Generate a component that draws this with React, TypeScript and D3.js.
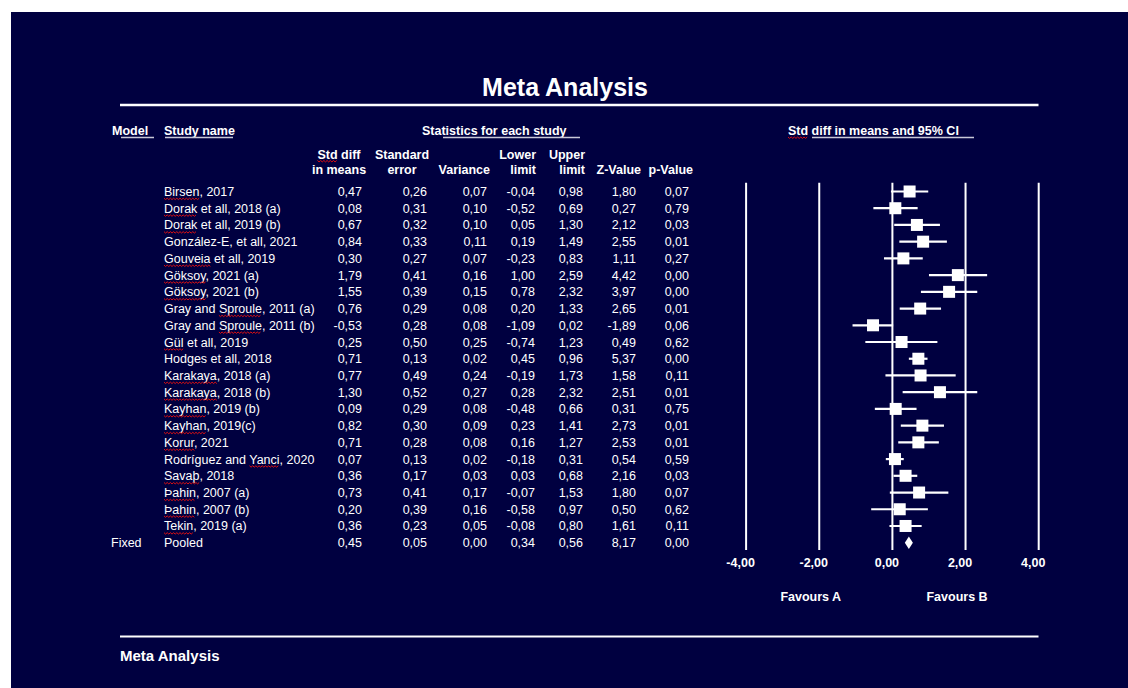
import React from "react";
import * as d3 from "d3";

// ---------- data ----------
const studyNames = [
  "Birsen, 2017",
  "Dorak et all, 2018 (a)",
  "Dorak et all, 2019 (b)",
  "González-E, et all, 2021",
  "Gouveia et all, 2019",
  "Göksoy, 2021 (a)",
  "Göksoy, 2021 (b)",
  "Gray and Sproule, 2011 (a)",
  "Gray and Sproule, 2011 (b)",
  "Gül et all, 2019",
  "Hodges et all, 2018",
  "Karakaya, 2018 (a)",
  "Karakaya, 2018 (b)",
  "Kayhan, 2019 (b)",
  "Kayhan, 2019(c)",
  "Korur, 2021",
  "Rodríguez and Yanci, 2020",
  "Savaþ, 2018",
  "Þahin, 2007 (a)",
  "Þahin, 2007 (b)",
  "Tekin, 2019 (a)",
];
// words flagged by the spell checker in the original screenshot
const flaggedWords = [
  "Birsen", "Dorak", "Dorak", "", "Gouveia", "Göksoy", "Göksoy", "Sproule", "Sproule",
  "Gül", "", "Karakaya", "Karakaya", "Kayhan", "Kayhan", "Korur", "Yanci", "Savaþ",
  "Þahin", "Þahin", "Tekin",
];
const stdDiff = [0.47, 0.08, 0.67, 0.84, 0.30, 1.79, 1.55, 0.76, -0.53, 0.25, 0.71, 0.77, 1.30, 0.09, 0.82, 0.71, 0.07, 0.36, 0.73, 0.20, 0.36];
const stdErr = [0.26, 0.31, 0.32, 0.33, 0.27, 0.41, 0.39, 0.29, 0.28, 0.50, 0.13, 0.49, 0.52, 0.29, 0.30, 0.28, 0.13, 0.17, 0.41, 0.39, 0.23];
const variance = [0.07, 0.10, 0.10, 0.11, 0.07, 0.16, 0.15, 0.08, 0.08, 0.25, 0.02, 0.24, 0.27, 0.08, 0.09, 0.08, 0.02, 0.03, 0.17, 0.16, 0.05];
const lowerLimit = [-0.04, -0.52, 0.05, 0.19, -0.23, 1.00, 0.78, 0.20, -1.09, -0.74, 0.45, -0.19, 0.28, -0.48, 0.23, 0.16, -0.18, 0.03, -0.07, -0.58, -0.08];
const upperLimit = [0.98, 0.69, 1.30, 1.49, 0.83, 2.59, 2.32, 1.33, 0.02, 1.23, 0.96, 1.73, 2.32, 0.66, 1.41, 1.27, 0.31, 0.68, 1.53, 0.97, 0.80];
const zValue = [1.80, 0.27, 2.12, 2.55, 1.11, 4.42, 3.97, 2.65, -1.89, 0.49, 5.37, 1.58, 2.51, 0.31, 2.73, 2.53, 0.54, 2.16, 1.80, 0.50, 1.61];
const pValue = [0.07, 0.79, 0.03, 0.01, 0.27, 0.00, 0.00, 0.01, 0.06, 0.62, 0.00, 0.11, 0.01, 0.75, 0.01, 0.01, 0.59, 0.03, 0.07, 0.62, 0.11];

const pooledModel = "Fixed";
const pooledName = "Pooled";
const pooledStats = [0.45, 0.05, 0.00, 0.34, 0.56, 8.17, 0.00]; // std, se, var, lower, upper, z, p

const axisTicks = [-4, -2, 0, 2, 4];
const favourLabels = ["Favours A", "Favours B"];
const favourAt = [-2, 2];

const titleText = "Meta Analysis";
const footerText = "Meta Analysis";
const headerModel = "Model";
const headerStudy = "Study name";
const headerStats = "Statistics for each study";
const headerForest = "Std diff in means and 95% CI";
const columnHeads = [
  ["Std diff", "in means"],
  ["Standard", "error"],
  ["", "Variance"],
  ["Lower", "limit"],
  ["Upper", "limit"],
  ["", "Z-Value"],
  ["", "p-Value"],
];

// ---------- layout ----------
const W = 1128;
const H = 688;
const BG = "#000040";
const FONT = "'Liberation Sans', Arial, Helvetica, sans-serif";
const FS = 12.5;

const colValueRight = [362, 427, 487, 535, 583, 636, 689];
const colHeadX = [339, 402, 490, 536, 585, 641, 693];
const colHeadAnchor = ["middle", "middle", "end", "end", "end", "end", "end"];

const locale = d3.formatLocale({
  decimal: ",",
  thousands: ".",
  grouping: [3],
  currency: ["", ""],
  minus: "-",
});
const fmt = locale.format(".2f");

let _ctx: CanvasRenderingContext2D | null = null;
function textWidth(t: string, size: number, bold = false) {
  if (!_ctx) {
    const c = document.createElement("canvas");
    _ctx = c.getContext("2d");
  }
  if (!_ctx) return t.length * size * 0.5;
  _ctx.font = `${bold ? "bold " : ""}${size}px 'Liberation Sans', Arial, sans-serif`;
  return _ctx.measureText(t).width;
}

function squigglePath(x0: number, x1: number, y: number) {
  const step = 1.6;
  let d = `M${x0},${y}`;
  let up = true;
  for (let x = x0 + step; x <= x1 + 0.01; x += step) {
    d += ` L${x.toFixed(2)},${(up ? y + 1.4 : y).toFixed(2)}`;
    up = !up;
  }
  return d;
}

export default function App() {
  const nRows = studyNames.length + 1;
  const y = d3.scalePoint<number>().domain(d3.range(nRows)).range([191.5, 542.7]);
  const x = d3.scaleLinear().domain([-4, 4]).range([746.1, 1038.7]);

  const studyX = 164;
  const modelX = 111;
  const textDy = 4.5;

  const statsCols = [stdDiff, stdErr, variance, lowerLimit, upperLimit, zValue, pValue];

  const squiggles: { x0: number; x1: number; y: number }[] = [];
  studyNames.forEach((name, i) => {
    const w = flaggedWords[i];
    if (!w) return;
    const idx = name.indexOf(w);
    if (idx < 0) return;
    const x0 = studyX + textWidth(name.slice(0, idx), FS);
    const x1 = x0 + textWidth(w, FS);
    squiggles.push({ x0, x1, y: (y(i) as number) + textDy + 2.2 });
  });
  // "Std" in the headers
  {
    const w1 = textWidth(columnHeads[0][0], FS, true);
    const x0 = colHeadX[0] - w1 / 2;
    squiggles.push({ x0, x1: x0 + textWidth("Std", FS, true), y: 160.5 });
    const x0b = 788;
    squiggles.push({ x0: x0b, x1: x0b + textWidth("Std", FS, true), y: 137 });
  }

  const boxSize = 12;
  const pooledY = y(nRows - 1) as number;
  const diamondH = 6.2;
  const diamond = d3.line<[number, number]>()([
    [x(pooledStats[3]), pooledY],
    [x(pooledStats[0]), pooledY - diamondH],
    [x(pooledStats[4]), pooledY],
    [x(pooledStats[0]), pooledY + diamondH],
    [x(pooledStats[3]), pooledY],
  ]);

  return (
    <svg
      width={W}
      height={H}
      style={{ position: "absolute", left: 0, top: 0, display: "block" }}
      fontFamily={FONT}
    >
      <rect x={0} y={0} width={W} height={H} fill="#ffffff" />
      <rect x={11} y={12} width={W - 11} height={H - 12} fill={BG} />

      {/* title */}
      <text x={565} y={96} textAnchor="middle" fill="#fff" fontWeight="bold" fontSize={25}>
        {titleText}
      </text>
      <line x1={120} x2={1038.5} y1={105} y2={105} stroke="#fff" strokeWidth={2.5} />

      {/* group headers */}
      <g fill="#fff" fontWeight="bold" fontSize={FS}>
        <text x={112} y={134.5}>{headerModel}</text>
        <text x={164} y={134.5}>{headerStudy}</text>
        <text x={422} y={134.5}>{headerStats}</text>
        <text x={788} y={134.5}>{headerForest}</text>
      </g>
      <g stroke="#c8c8d8" strokeWidth={1.3}>
        <line x1={121} x2={154} y1={137.5} y2={137.5} />
        <line x1={165} x2={233} y1={137.5} y2={137.5} />
        <line x1={443} x2={580} y1={137.5} y2={137.5} />
        <line x1={812} x2={974} y1={137.5} y2={137.5} />
      </g>

      {/* column heads */}
      <g fill="#fff" fontWeight="bold" fontSize={FS}>
        {columnHeads.map((h, i) => (
          <g key={i}>
            {h[0] && (
              <text x={colHeadX[i]} y={158.5} textAnchor={colHeadAnchor[i] as any}>
                {h[0]}
              </text>
            )}
            <text x={colHeadX[i]} y={173.5} textAnchor={colHeadAnchor[i] as any}>
              {h[1]}
            </text>
          </g>
        ))}
      </g>

      {/* study rows */}
      <g fill="#fff" fontSize={FS}>
        {studyNames.map((name, i) => {
          const yy = (y(i) as number) + textDy;
          return (
            <g key={name}>
              <text x={studyX} y={yy}>{name}</text>
              {statsCols.map((col, c) => (
                <text key={c} x={colValueRight[c]} y={yy} textAnchor="end">
                  {fmt(col[i])}
                </text>
              ))}
            </g>
          );
        })}
        <text x={modelX} y={pooledY + textDy}>{pooledModel}</text>
        <text x={studyX} y={pooledY + textDy}>{pooledName}</text>
        {pooledStats.map((v, c) => (
          <text key={c} x={colValueRight[c]} y={pooledY + textDy} textAnchor="end">
            {fmt(v)}
          </text>
        ))}
      </g>

      {/* spell-check squiggles */}
      <g fill="none" stroke="#e01010" strokeWidth={1}>
        {squiggles.map((s, i) => (
          <path key={i} d={squigglePath(s.x0, s.x1, s.y)} />
        ))}
      </g>

      {/* forest plot grid lines */}
      <g stroke="#fff" strokeWidth={2}>
        {axisTicks.map((t) => (
          <line key={t} x1={x(t)} x2={x(t)} y1={182.7} y2={550} />
        ))}
      </g>

      {/* CIs and boxes */}
      <g>
        {studyNames.map((name, i) => {
          const yy = y(i) as number;
          return (
            <g key={name}>
              <line x1={x(lowerLimit[i])} x2={x(upperLimit[i])} y1={yy} y2={yy} stroke="#fff" strokeWidth={2.2} />
              <rect
                x={x(stdDiff[i]) - boxSize / 2}
                y={yy - boxSize / 2}
                width={boxSize}
                height={boxSize}
                fill="#fff"
              />
            </g>
          );
        })}
        <path d={diamond ?? ""} fill="#fff" />
      </g>

      {/* tick labels */}
      <g fill="#fff" fontWeight="bold" fontSize={FS}>
        {axisTicks.map((t) => (
          <text key={t} x={x(t) - 5.5} y={567} textAnchor="middle">
            {fmt(t)}
          </text>
        ))}
        {favourLabels.map((lab, i) => (
          <text key={lab} x={x(favourAt[i]) - 8.5} y={601} textAnchor="middle">
            {lab}
          </text>
        ))}
      </g>

      {/* footer */}
      <line x1={120} x2={1038.5} y1={636.5} y2={636.5} stroke="#fff" strokeWidth={1.8} />
      <text x={120} y={660.5} fill="#fff" fontWeight="bold" fontSize={15}>
        {footerText}
      </text>
    </svg>
  );
}
